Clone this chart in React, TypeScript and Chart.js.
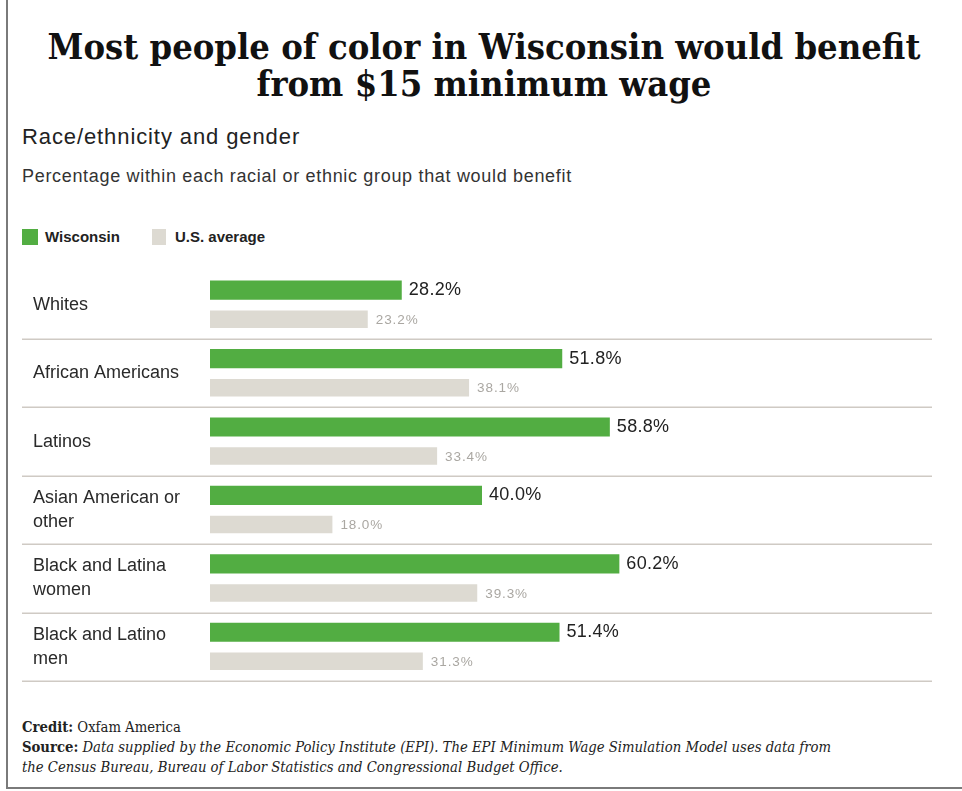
import React, { useEffect, useRef } from "react";
import { Chart, registerables } from "chart.js";

Chart.register(...registerables);

const categories: (string | string[])[] = [
  "Whites",
  "African Americans",
  "Latinos",
  ["Asian American or", "other"],
  ["Black and Latina", "women"],
  ["Black and Latino", "men"],
];
const wisconsin = [28.2, 51.8, 58.8, 40.0, 60.2, 51.4];
const usAverage = [23.2, 38.1, 33.4, 18.0, 39.3, 31.3];
const seriesNames = ["Wisconsin", "U.S. average"];

const GREEN = "#52ad42";
const GRAY = "#dddad2";

const CW = 962;
const CH = 440;
const CTOP = 256;

export default function App() {
  const ref = useRef<HTMLCanvasElement | null>(null);

  useEffect(() => {
    if (!ref.current) return;
    const separators = {
      id: "separators",
      afterDatasetsDraw(chart: any) {
        const ctx = chart.ctx;
        const n = categories.length;
        const step = (chart.chartArea.bottom - chart.chartArea.top) / n;
        ctx.save();
        ctx.strokeStyle = "#cfcac4";
        ctx.lineWidth = 1.5;
        for (let i = 1; i <= n; i++) {
          const yy = Math.round(chart.chartArea.top + step * i) + 0.25;
          ctx.beginPath();
          ctx.moveTo(22, yy);
          ctx.lineTo(932, yy);
          ctx.stroke();
        }
        ctx.restore();
      },
    };
    const valueLabels = {
      id: "valueLabels",
      afterDatasetsDraw(chart: any) {
        const ctx = chart.ctx;
        ctx.save();
        ctx.textBaseline = "middle";
        ctx.textAlign = "left";
        chart.data.datasets.forEach((ds: any, di: number) => {
          const meta = chart.getDatasetMeta(di);
          meta.data.forEach((el: any, i: number) => {
            const v = ds.data[i] as number;
            if (di === 0) {
              ctx.font = "18px 'Liberation Sans', Arial, sans-serif";
              (ctx as any).letterSpacing = "0.3px";
              ctx.fillStyle = "#222";
              ctx.fillText(v.toFixed(1) + "%", el.x + 7, el.y);
            } else {
              ctx.font = "13.5px 'Liberation Sans', Arial, sans-serif";
              (ctx as any).letterSpacing = "0.9px";
              ctx.fillStyle = "#aaa7a2";
              ctx.fillText(v.toFixed(1) + "%", el.x + 8, el.y + 1);
            }
          });
        });
        (ctx as any).letterSpacing = "0px";
        ctx.restore();
      },
    };
    const chart = new Chart(ref.current, {
      type: "bar",
      data: {
        labels: categories,
        datasets: [
          {
            label: seriesNames[0],
            data: wisconsin,
            backgroundColor: GREEN,
            barPercentage: 0.66,
            categoryPercentage: 0.85,
          },
          {
            label: seriesNames[1],
            data: usAverage,
            backgroundColor: GRAY,
            barPercentage: 0.6,
            categoryPercentage: 0.85,
          },
        ],
      },
      options: {
        indexAxis: "y",
        responsive: false,
        animation: false,
        layout: { padding: { left: 33, right: 72, top: 14.5, bottom: 15 } },
        plugins: {
          legend: { display: false },
          tooltip: { enabled: false },
        },
        scales: {
          x: { display: false, min: 0, max: 100 },
          y: {
            grid: { display: false },
            border: { display: false },
            afterFit(scale: any) {
              scale.width = 177;
              scale.paddingTop = 0;
              scale.paddingBottom = 0;
            },
            ticks: {
              crossAlign: "far",
              color: "#2a2a2a",
              font: { family: "'Liberation Sans', Arial, sans-serif", size: 18, lineHeight: 1.33 },
            },
          },
        },
      },
      plugins: [separators, valueLabels],
    } as any);
    return () => chart.destroy();
  }, []);

  const serif = "'DejaVu Serif Condensed', 'DejaVu Serif', serif";
  return (
    <div
      style={{
        position: "absolute",
        left: 0,
        top: 0,
        width: CW,
        height: 791,
        background: "#fff",
        overflow: "hidden",
        fontFamily: "'Liberation Sans', Arial, sans-serif",
      }}
    >
      <div style={{ position: "absolute", left: 6, top: 0, width: 2, height: 789, background: "#7a7a7a" }} />
      <div style={{ position: "absolute", left: 6, top: 787, width: 956, height: 2, background: "#7a7a7a" }} />
      <div
        style={{
          position: "absolute",
          left: 0,
          top: 28,
          width: 968,
          textAlign: "center",
          fontFamily: serif,
          fontStretch: "condensed",
          fontWeight: 700,
          fontSize: 36,
          lineHeight: "37px",
          color: "#111",
        }}
      >
        Most people of color in Wisconsin would benefit
        <br />
        from $15 minimum wage
      </div>
      <div style={{ position: "absolute", left: 22, top: 124, fontSize: 22, letterSpacing: 0.9, color: "#222" }}>
        Race/ethnicity and gender
      </div>
      <div style={{ position: "absolute", left: 22, top: 166, fontSize: 18, letterSpacing: 0.68, color: "#333" }}>
        Percentage within each racial or ethnic group that would benefit
      </div>
      <div style={{ position: "absolute", left: 22, top: 229, width: 16, height: 16, background: GREEN }} />
      <div style={{ position: "absolute", left: 45, top: 228, fontSize: 15, fontWeight: 700, color: "#222", lineHeight: "18px" }}>
        {seriesNames[0]}
      </div>
      <div style={{ position: "absolute", left: 152, top: 229, width: 14, height: 16, background: GRAY }} />
      <div style={{ position: "absolute", left: 175, top: 228, fontSize: 15, fontWeight: 700, color: "#222", lineHeight: "18px" }}>
        {seriesNames[1]}
      </div>
      <canvas
        ref={ref}
        width={CW}
        height={CH}
        style={{ position: "absolute", left: 0, top: CTOP, width: CW, height: CH, display: "block" }}
      />
      <div
        style={{
          position: "absolute",
          left: 22,
          top: 717,
          fontFamily: serif,
          fontStretch: "condensed",
          fontSize: 14.7,
          lineHeight: "20px",
          color: "#222",
        }}
      >
        <b>Credit:</b> Oxfam America
        <br />
        <b>Source:</b>{" "}
        <i>
          Data supplied by the Economic Policy Institute (EPI). The EPI Minimum Wage Simulation Model uses data from
        </i>
        <br />
        <i>the Census Bureau, Bureau of Labor Statistics and Congressional Budget Office.</i>
      </div>
    </div>
  );
}
